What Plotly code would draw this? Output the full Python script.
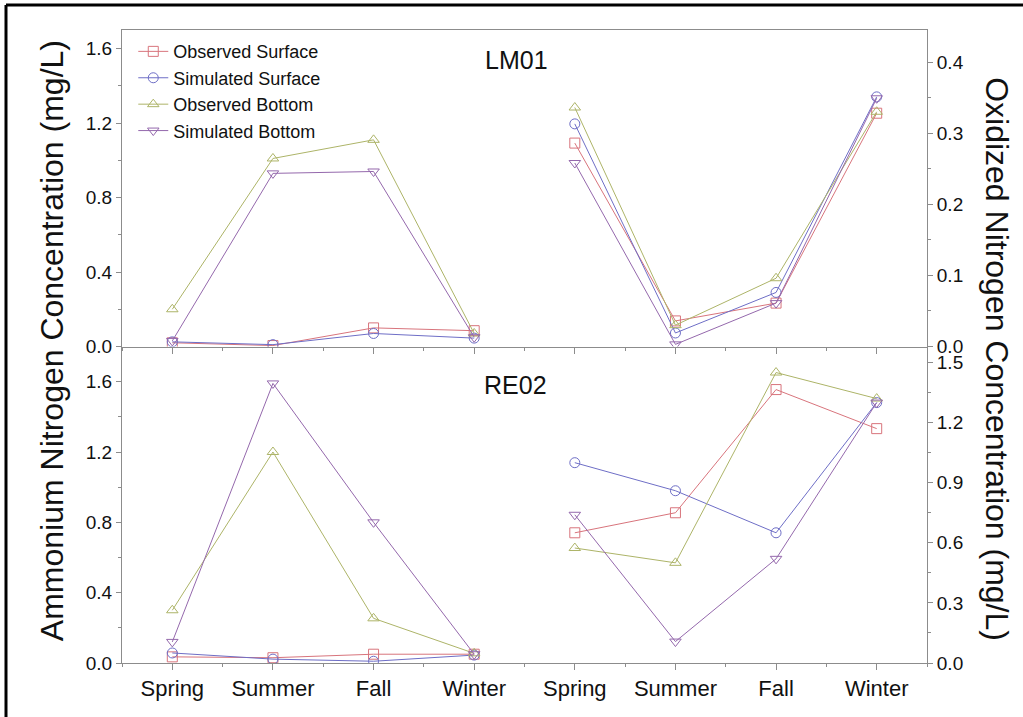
import plotly.graph_objects as go

# Season labels for the two halves of the x axis (ammonium left, oxidized N right)
seasons = ["Spring", "Summer", "Fall", "Winter"]
x_nh4 = [1, 2, 3, 4]
x_nox = [5, 6, 7, 8]

# LM01 - ammonium nitrogen (mg/L)
lm01_nh4_obs_surface = [0.02, 0.005, 0.10, 0.085]
lm01_nh4_sim_surface = [0.025, 0.01, 0.07, 0.045]
lm01_nh4_obs_bottom = [0.20, 1.01, 1.11, 0.07]
lm01_nh4_sim_bottom = [0.03, 0.93, 0.94, 0.05]

# LM01 - oxidized nitrogen (mg/L)
lm01_nox_obs_surface = [0.286, 0.036, 0.061, 0.328]
lm01_nox_sim_surface = [0.313, 0.019, 0.076, 0.351]
lm01_nox_obs_bottom = [0.336, 0.030, 0.096, 0.330]
lm01_nox_sim_bottom = [0.258, 0.003, 0.061, 0.349]

# RE02 - ammonium nitrogen (mg/L)
re02_nh4_obs_surface = [0.035, 0.03, 0.05, 0.05]
re02_nh4_sim_surface = [0.057, 0.022, 0.01, 0.045]
re02_nh4_obs_bottom = [0.30, 1.20, 0.254, 0.055]
re02_nh4_sim_bottom = [0.12, 1.59, 0.80, 0.05]

# RE02 - oxidized nitrogen (mg/L)
re02_nox_obs_surface = [0.65, 0.75, 1.365, 1.17]
re02_nox_sim_surface = [1.00, 0.86, 0.65, 1.30]
re02_nox_obs_bottom = [0.574, 0.50, 1.45, 1.32]
re02_nox_sim_bottom = [0.74, 0.107, 0.52, 1.30]

series = [
    ("Observed Surface", "#D8747C", "square-open",
     lm01_nh4_obs_surface, lm01_nox_obs_surface, re02_nh4_obs_surface, re02_nox_obs_surface),
    ("Simulated Surface", "#6E6EC6", "circle-open",
     lm01_nh4_sim_surface, lm01_nox_sim_surface, re02_nh4_sim_surface, re02_nox_sim_surface),
    ("Observed Bottom", "#ADB468", "triangle-up-open",
     lm01_nh4_obs_bottom, lm01_nox_obs_bottom, re02_nh4_obs_bottom, re02_nox_obs_bottom),
    ("Simulated Bottom", "#9468AC", "triangle-down-open",
     lm01_nh4_sim_bottom, lm01_nox_sim_bottom, re02_nh4_sim_bottom, re02_nox_sim_bottom),
]

FONT = "Liberation Sans, Arial, sans-serif"

fig = go.Figure()
for name, color, symbol, a, b, c, d in series:
    common = dict(mode="lines+markers", name=name, legendgroup=name,
                  line=dict(color=color, width=1),
                  marker=dict(symbol=symbol, size=10, color=color, line=dict(width=1, color=color)))
    fig.add_trace(go.Scatter(x=x_nh4, y=a, xaxis="x2", yaxis="y", showlegend=True, **common))
    fig.add_trace(go.Scatter(x=x_nox, y=b, xaxis="x2", yaxis="y2", showlegend=False, **common))
    fig.add_trace(go.Scatter(x=x_nh4, y=c, xaxis="x", yaxis="y3", showlegend=False, **common))
    fig.add_trace(go.Scatter(x=x_nox, y=d, xaxis="x", yaxis="y4", showlegend=False, **common))

axis_gray = "#8c8c8c"
xtick_font = dict(family=FONT, size=22, color="#111111")
ytick_font = dict(family=FONT, size=19, color="#111111")
minor_x = [i + 0.5 for i in range(0, 9)]

xcommon = dict(range=[0.5, 8.5], showgrid=False, zeroline=False, showline=True,
               linecolor=axis_gray, linewidth=1, ticks="outside", ticklen=6,
               tickcolor=axis_gray, tickvals=x_nh4 + x_nox, ticktext=seasons + seasons,
               minor=dict(tickvals=minor_x, ticks="outside", ticklen=3, tickcolor=axis_gray))

ycommon = dict(showgrid=False, zeroline=False, showline=True, linecolor=axis_gray,
               linewidth=1, ticks="outside", ticklen=5, tickcolor=axis_gray,
               tickfont=ytick_font)

fig.update_layout(
    width=1023, height=717,
    margin=dict(l=122, r=96, t=30, b=54),
    paper_bgcolor="white", plot_bgcolor="white",
    font=dict(family=FONT, color="#111111"),
    xaxis=dict(domain=[0, 1], anchor="y3", tickfont=xtick_font, **xcommon),
    xaxis2=dict(domain=[0, 1], anchor="y", matches="x", showticklabels=False,
                mirror=True, **xcommon),
    yaxis=dict(domain=[0.5, 1], anchor="x2", range=[0, 1.70], tickvals=[0, 0.4, 0.8, 1.2, 1.6],
               ticktext=["0.0", "0.4", "0.8", "1.2", "1.6"],
               minor=dict(dtick=0.2, ticks="outside", ticklen=3, tickcolor=axis_gray), **ycommon),
    yaxis2=dict(overlaying="y", side="right", anchor="x2", range=[0, 0.445],
                tickvals=[0, 0.1, 0.2, 0.3, 0.4], ticktext=["0.0", "0.1", "0.2", "0.3", "0.4"],
                minor=dict(dtick=0.05, ticks="outside", ticklen=3, tickcolor=axis_gray), **ycommon),
    yaxis3=dict(domain=[0, 0.5], anchor="x", range=[0, 1.80], tickvals=[0, 0.4, 0.8, 1.2, 1.6],
                ticktext=["0.0", "0.4", "0.8", "1.2", "1.6"],
                minor=dict(dtick=0.2, ticks="outside", ticklen=3, tickcolor=axis_gray), **ycommon),
    yaxis4=dict(overlaying="y3", side="right", anchor="x", range=[0, 1.58],
                tickvals=[0, 0.3, 0.6, 0.9, 1.2, 1.5],
                ticktext=["0.0", "0.3", "0.6", "0.9", "1.2", "1.5"],
                minor=dict(dtick=0.15, ticks="outside", ticklen=3, tickcolor=axis_gray), **ycommon),
    legend=dict(x=0.014, y=0.995, xanchor="left", yanchor="top", bgcolor="rgba(0,0,0,0)",
                font=dict(family=FONT, size=18, color="#111111"),
                tracegroupgap=0),
    showlegend=True,
)

# Station labels
fig.add_annotation(text="LM01", x=0.449, y=0.953, xref="paper", yref="paper", showarrow=False,
                   xanchor="left", yanchor="middle", font=dict(size=25, color="#111111"))
fig.add_annotation(text="RE02", x=0.447, y=0.439, xref="paper", yref="paper", showarrow=False,
                   xanchor="left", yanchor="middle", font=dict(size=25, color="#111111"))

# Axis titles
fig.add_annotation(text="Ammonium Nitrogen Concentration (mg/L)", x=-0.087, y=0.51,
                   xref="paper", yref="paper", showarrow=False, textangle=-90,
                   xanchor="center", yanchor="middle",
                   font=dict(size=32, color="#111111"))
fig.add_annotation(text="Oxidized Nitrogen Concentration (mg/L)", x=1.087, y=0.48,
                   xref="paper", yref="paper", showarrow=False, textangle=90,
                   xanchor="center", yanchor="middle",
                   font=dict(size=32, color="#111111"))

# Outer frame (top and left edges)
fig.add_shape(type="line", xref="paper", yref="paper", x0=-0.1441, x1=1.2, y0=1.0395, y1=1.0395,
              line=dict(color="black", width=3))
fig.add_shape(type="line", xref="paper", yref="paper", x0=-0.1441, x1=-0.1441, y0=-0.2, y1=1.0395,
              line=dict(color="black", width=3))

fig.write_html("out.html")
